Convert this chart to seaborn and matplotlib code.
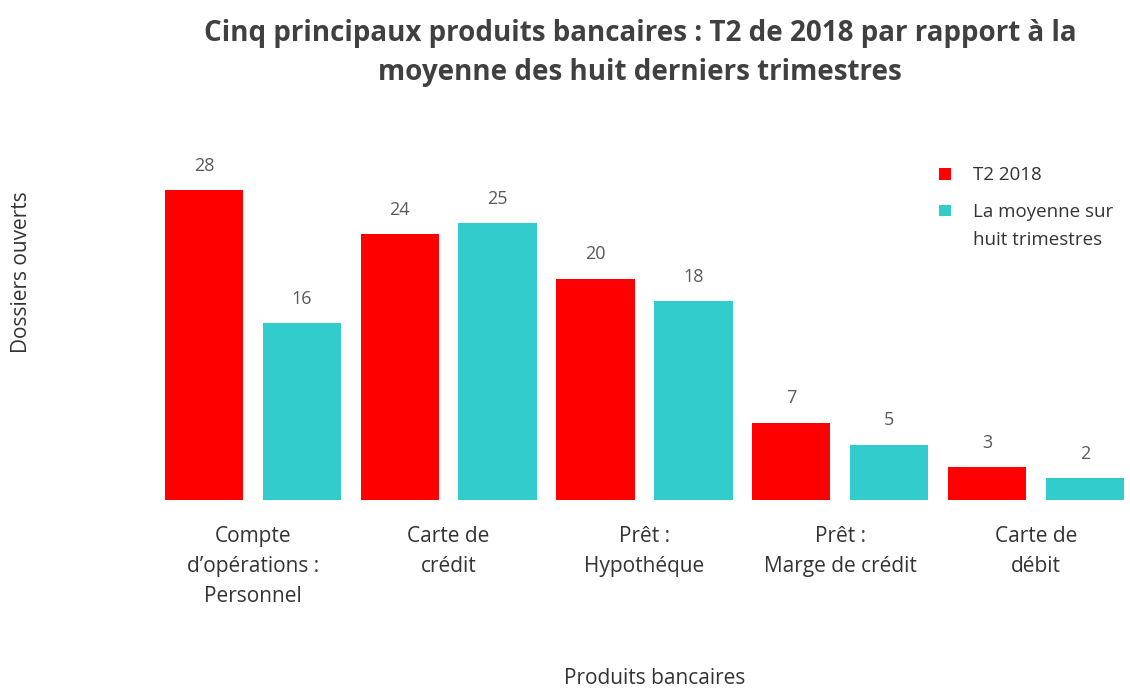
import matplotlib
matplotlib.use("Agg")
import matplotlib.pyplot as plt
import seaborn as sns
import pandas as pd

categories = ["Compte\nd\u2019opérations :\nPersonnel", "Carte de\ncrédit", "Prêt :\nHypothéque",
              "Prêt :\nMarge de crédit", "Carte de\ndébit"]
t2_2018 = [28, 24, 20, 7, 3]
moyenne = [16, 25, 18, 5, 2]
series_names = ["T2 2018", "La moyenne sur\nhuit trimestres"]
colors = ["#FF0000", "#33CCCC"]

df = pd.DataFrame({
    "cat": categories * 2,
    "val": t2_2018 + moyenne,
    "serie": [series_names[0]] * 5 + [series_names[1]] * 5,
})

sns.set_theme(style="white")
plt.rcParams["font.family"] = ["Open Sans", "DejaVu Sans"]

fig = plt.figure(figsize=(11.3, 6.88), dpi=100)
ax = fig.add_axes([155 / 1130, 188 / 688, 973 / 1130, 332 / 688])
sns.barplot(data=df, x="cat", y="val", hue="serie", palette=colors, width=1.0, gap=0.2,
            ax=ax, saturation=1, order=categories, hue_order=series_names, linewidth=0)
ax.set_xlim(-0.5, 4.47)
ax.set_ylim(0, 30)
sns.despine(ax=ax, left=True, bottom=True)
ax.set_yticks([])
ax.set_xlabel("")
ax.set_ylabel("")
ax.tick_params(axis="x", length=0, pad=19, labelsize=15, labelcolor="#333333")
for lbl in ax.get_xticklabels():
    lbl.set_linespacing(1.55)
    lbl.set_verticalalignment("top")

for cont in ax.containers:
    ax.bar_label(cont, padding=11, fontsize=13, color="#595959")

# legend: first line of each label beside its marker, second line below (as in the reference)
leg_fs = 13.5
handles, labels = ax.get_legend_handles_labels()
first_lines = [l.split("\n")[0] for l in labels]
leg = ax.legend(handles, first_lines, loc="upper left", bbox_to_anchor=(930 / 1130, 1 - 157 / 688),
                bbox_transform=fig.transFigure, frameon=False, fontsize=leg_fs, borderpad=0,
                handlelength=0.6, handleheight=0.6, handletextpad=1.2, labelspacing=1.0)
for t in leg.get_texts():
    t.set_color("#333333")

fig.canvas.draw()
t2 = leg.get_texts()[1]
bb = t2.get_window_extent(renderer=fig.canvas.get_renderer())
for i, extra in enumerate(labels[1].split("\n")[1:]):
    fig.text(bb.x0 / fig.bbox.width, (bb.y0 - 28 * (i + 1) + bb.height / 2) / fig.bbox.height,
             extra, ha="left", va="center", fontsize=leg_fs, color="#333333")

fig.text(640 / 1130, 1 - 53 / 688,
         "Cinq principaux produits bancaires : T2 de 2018 par rapport à la\nmoyenne des huit derniers trimestres",
         ha="center", va="center", fontsize=20, fontweight="bold", color="#404040", linespacing=1.48)
fig.text(22 / 1130, 1 - 272 / 688, "Dossiers ouverts", rotation=90, ha="center", va="center",
         fontsize=15, color="#333333")
fig.text(655 / 1130, 1 - 678 / 688, "Produits bancaires", ha="center", va="center",
         fontsize=15, color="#333333")

fig.savefig("out.png", dpi=100)
